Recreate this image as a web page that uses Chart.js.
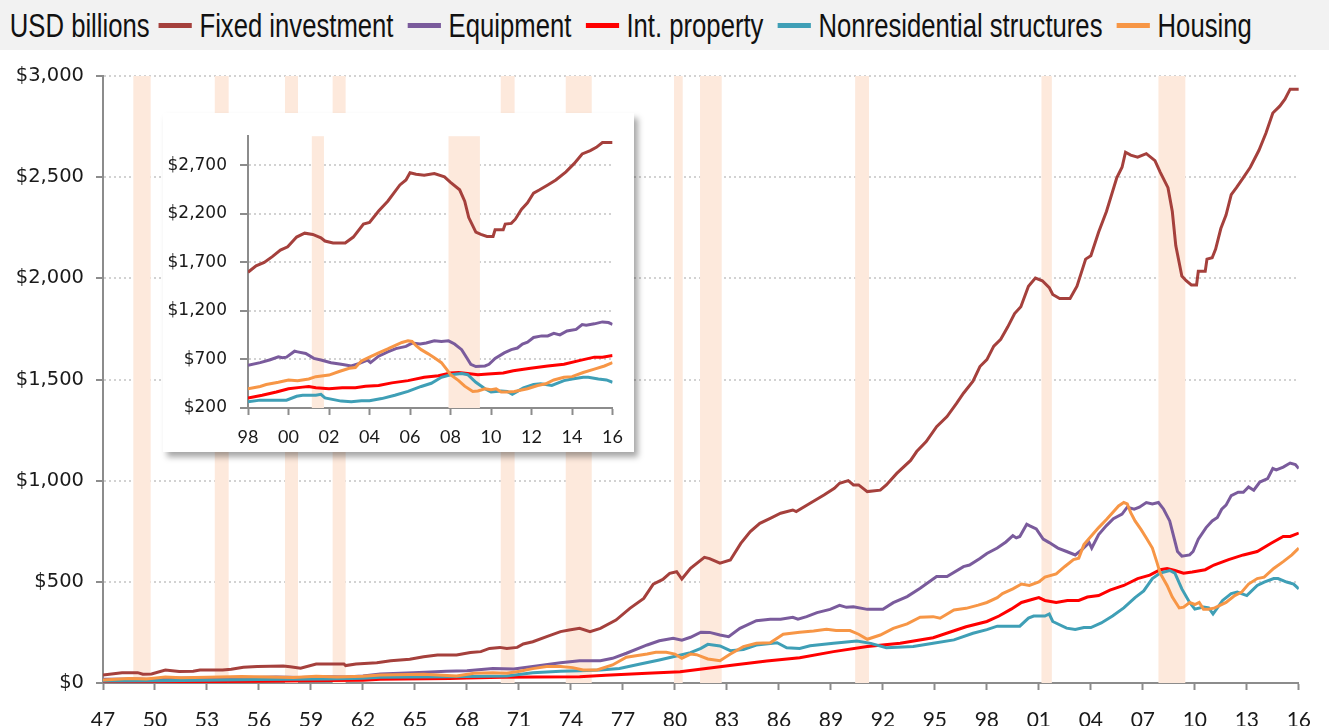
<!DOCTYPE html>
<html>
<head>
<meta charset="utf-8">
<title>Fixed investment by type</title>
<script src="https://cdn.jsdelivr.net/npm/chart.js@4.4.1/dist/chart.umd.min.js"></script>
<style>
    html, body { margin: 0; padding: 0; background: #fff; }
    #wrap { position: relative; width: 1329px; height: 726px; overflow: hidden; }
    #mainChart { position: absolute; left: 0; top: 0; }
    #legend {
        position: absolute; left: 0; top: 0; width: 1329px; height: 50px;
        background: #f2f2f2; overflow: hidden;
    }
    /* the original uses a tall condensed face: squeeze Liberation Sans to match */
    #legendRow {
        position: absolute; left: 0; top: 0; height: 50px;
        display: flex; align-items: center; white-space: nowrap;
        transform: scaleX(0.755); transform-origin: 0 0;
        font-family: 'Liberation Sans', Arial, sans-serif; font-size: 34px; color: #111;
    }
    #legendRow .unit { margin-left: 13px; margin-right: 12px; }
    #legendRow .item { display: flex; align-items: center; margin-right: 19px; }
    #legendRow .swatch { width: 44px; height: 5px; margin-right: 10px; }
    #inset {
        position: absolute; left: 163px; top: 113px; width: 471px; height: 339px;
        background: #fff; box-shadow: 4px 5px 6px rgba(0, 0, 0, 0.35);
    }
</style>
</head>
<body>
<div id="wrap">
    <canvas id="mainChart" width="1329" height="726"></canvas>
    <div id="legend"><div id="legendRow"><span class="unit">USD billions</span></div></div>
    <div id="inset"><canvas id="insetChart" width="471" height="339"></canvas></div>
</div>
<script>
// Values, [year, USD billions]
const fixedInvestment = [
    [1947.0, 40], [1948.1, 51], [1949.0, 51], [1949.3, 43], [1949.8, 45], [1950.6, 64], [1951.4, 57],
    [1952.2, 58], [1952.6, 64], [1953.9, 64], [1954.4, 68], [1955.1, 78], [1955.9, 81], [1957.4, 84],
    [1957.8, 80], [1958.4, 73], [1959.3, 94], [1960.9, 94], [1961.0, 86], [1961.6, 94], [1962.8, 100],
    [1963.6, 110], [1964.7, 117], [1965.5, 130], [1966.3, 138], [1967.4, 138], [1968.2, 151], [1968.8, 155],
    [1969.3, 171], [1969.9, 176], [1970.3, 171], [1970.9, 176], [1971.25, 193], [1971.8, 204], [1972.6, 229],
    [1973.4, 254], [1973.9, 262], [1974.5, 270], [1975.1, 254], [1975.7, 270], [1976.6, 311], [1977.4, 369],
    [1978.2, 418], [1978.75, 489], [1979.3, 512], [1979.7, 542], [1980.1, 550], [1980.4, 514], [1980.9, 567],
    [1981.7, 621], [1982.0, 615], [1982.6, 592], [1983.2, 608], [1983.8, 690], [1984.35, 748], [1984.9, 789],
    [1985.5, 814], [1986.1, 839], [1986.8, 855], [1987.0, 847], [1987.8, 888], [1988.6, 929], [1989.2, 962],
    [1989.5, 987], [1990.0, 1000], [1990.3, 979], [1990.6, 979], [1991.1, 946], [1991.85, 953], [1992.2, 979],
    [1992.8, 1036], [1993.6, 1100], [1993.95, 1144], [1994.5, 1193], [1995.1, 1267], [1995.7, 1317],
    [1996.25, 1382], [1996.65, 1432], [1997.2, 1492], [1997.6, 1564], [1998.0, 1598], [1998.4, 1665],
    [1998.8, 1699], [1999.2, 1759], [1999.6, 1826], [1999.96, 1860], [2000.4, 1961], [2000.8, 2001],
    [2001.2, 1988], [2001.6, 1954], [2001.8, 1920], [2002.2, 1900], [2002.8, 1900], [2003.2, 1961],
    [2003.7, 2095], [2004.0, 2112], [2004.45, 2229], [2004.9, 2330], [2005.5, 2498], [2005.8, 2549],
    [2006.0, 2623], [2006.3, 2609], [2006.7, 2599], [2007.2, 2616], [2007.7, 2582], [2008.0, 2525],
    [2008.45, 2448], [2008.7, 2330], [2008.9, 2162], [2009.25, 2011], [2009.5, 1988], [2009.8, 1967],
    [2010.1, 1967], [2010.2, 2035], [2010.6, 2035], [2010.7, 2095], [2011.0, 2102], [2011.2, 2145],
    [2011.5, 2246], [2011.8, 2313], [2012.1, 2414], [2012.4, 2448], [2012.8, 2498], [2013.2, 2549],
    [2013.7, 2633], [2014.1, 2717], [2014.5, 2817], [2014.9, 2851], [2015.2, 2885], [2015.5, 2935],
    [2016.0, 2935]
];

const equipment = [
    [1947.0, 18], [1949.0, 20], [1949.8, 17], [1951.0, 24], [1953.0, 25], [1955.0, 26], [1957.0, 30],
    [1958.4, 27], [1960.0, 31], [1961.0, 30], [1962.0, 35], [1963.0, 44], [1964.9, 51], [1965.9, 54],
    [1966.8, 58], [1968.0, 61], [1969.5, 72], [1970.7, 69], [1971.8, 81], [1973.4, 100], [1974.5, 110],
    [1975.7, 110], [1976.4, 122], [1977.2, 147], [1978.4, 188], [1979.1, 209], [1979.9, 221], [1980.4, 212],
    [1980.9, 226], [1981.5, 251], [1982.0, 250], [1982.6, 237], [1983.1, 229], [1983.75, 270], [1984.7, 308],
    [1985.5, 315], [1986.1, 315], [1986.8, 325], [1987.1, 315], [1987.6, 328], [1988.2, 348], [1988.95, 364],
    [1989.5, 384], [1989.9, 374], [1990.3, 377], [1991.1, 364], [1992.0, 364], [1992.6, 397], [1993.4, 427],
    [1994.15, 468], [1995.1, 526], [1995.7, 526], [1996.65, 575], [1997.0, 583], [1997.6, 615],
    [1998.0, 640], [1998.6, 667], [1999.1, 697], [1999.5, 728], [1999.7, 717], [1999.9, 724], [2000.3, 785],
    [2000.45, 778], [2000.85, 761], [2001.25, 711], [2001.6, 694], [2002.1, 667], [2002.6, 650],
    [2003.1, 633], [2003.5, 660], [2003.9, 694], [2004.05, 667], [2004.45, 734], [2004.9, 778],
    [2005.3, 812], [2005.8, 835], [2006.1, 869], [2006.5, 859], [2006.8, 869], [2007.2, 892],
    [2007.55, 885], [2007.9, 892], [2008.2, 859], [2008.55, 801], [2008.8, 717], [2009.0, 650],
    [2009.25, 627], [2009.7, 633], [2009.9, 650], [2010.2, 711], [2010.65, 768], [2011.0, 801],
    [2011.3, 818], [2011.55, 859], [2011.8, 879], [2012.1, 926], [2012.5, 943], [2012.8, 943],
    [2013.1, 969], [2013.4, 953], [2013.75, 993], [2014.2, 1010], [2014.5, 1060], [2014.7, 1053],
    [2015.1, 1067], [2015.5, 1087], [2015.8, 1080], [2016.0, 1060]
];

const intProperty = [
    [1947.0, 4], [1952.0, 6], [1956.0, 9], [1960.0, 12], [1962.0, 14], [1963.0, 18], [1967.0, 22],
    [1968.0, 25], [1970.0, 28], [1972.0, 30], [1974.5, 31], [1976.0, 38], [1978.4, 48], [1980.3, 56],
    [1981.45, 68], [1983.4, 89], [1985.3, 109], [1987.2, 125], [1989.15, 155], [1991.1, 180], [1993.0, 196],
    [1994.9, 224], [1996.8, 278], [1998.0, 304], [1998.7, 331], [1999.4, 365], [2000.0, 398], [2000.7, 415],
    [2001.0, 422], [2001.35, 408], [2002.0, 398], [2002.65, 408], [2003.3, 408], [2003.8, 425],
    [2004.45, 432], [2005.1, 459], [2005.9, 482], [2006.7, 516], [2007.4, 533], [2008.0, 560],
    [2008.4, 566], [2008.85, 556], [2009.35, 543], [2009.85, 549], [2010.6, 560], [2011.1, 583],
    [2011.95, 610], [2012.8, 633], [2013.6, 650], [2014.4, 691], [2015.1, 724], [2015.5, 724], [2016.0, 741]
];

const nonresStructures = [
    [1947.0, 10], [1950.0, 11], [1953.0, 14], [1956.0, 17], [1958.0, 18], [1960.0, 20], [1962.0, 24],
    [1963.0, 28], [1966.8, 31], [1970.3, 35], [1971.8, 51], [1973.4, 58], [1974.5, 61], [1975.7, 64],
    [1976.8, 72], [1978.0, 94], [1979.1, 114], [1979.9, 130], [1980.9, 150], [1981.5, 171], [1981.9, 191],
    [1982.6, 183], [1983.2, 160], [1983.95, 166], [1984.7, 188], [1985.9, 199], [1986.45, 174], [1987.2, 171],
    [1987.8, 184], [1989.15, 196], [1990.5, 207], [1991.3, 196], [1992.2, 174], [1993.75, 180], [1994.9, 196],
    [1996.1, 213], [1997.2, 246], [1998.0, 264], [1998.6, 281], [1999.9, 281], [2000.4, 321], [2000.7, 331],
    [2001.35, 331], [2001.6, 341], [2001.8, 304], [2002.6, 271], [2003.1, 264], [2003.6, 274], [2004.0, 274],
    [2004.6, 297], [2005.25, 331], [2005.9, 371], [2006.55, 422], [2007.05, 455], [2007.55, 516],
    [2008.0, 543], [2008.55, 556], [2008.85, 543], [2009.25, 465], [2009.7, 398], [2010.0, 365],
    [2010.5, 375], [2010.8, 371], [2011.05, 341], [2011.3, 371], [2011.6, 408], [2012.1, 442],
    [2012.45, 449], [2013.0, 432], [2013.6, 482], [2014.0, 499], [2014.55, 516], [2014.8, 516],
    [2015.3, 499], [2015.7, 489], [2016.0, 465]
];

const housing = [
    [1947.0, 15], [1948.5, 22], [1949.5, 20], [1950.6, 30], [1951.5, 26], [1953.0, 28], [1955.0, 32],
    [1956.5, 30], [1958.0, 27], [1959.3, 33], [1960.5, 30], [1962.0, 33], [1963.0, 40], [1965.5, 43],
    [1967.4, 35], [1968.4, 48], [1969.5, 51], [1970.3, 48], [1971.05, 58], [1971.8, 71], [1972.6, 81],
    [1973.4, 81], [1974.1, 76], [1974.7, 64], [1975.5, 64], [1976.4, 89], [1977.2, 127], [1978.4, 143],
    [1978.9, 152], [1979.5, 152], [1980.0, 143], [1980.4, 122], [1980.9, 143], [1981.25, 140], [1981.9, 119],
    [1982.6, 110], [1983.2, 143], [1983.95, 180], [1984.7, 196], [1985.5, 199], [1986.25, 241], [1987.2, 251],
    [1988.0, 257], [1988.75, 265], [1989.3, 259], [1990.1, 259], [1990.6, 241], [1991.1, 216], [1991.85, 237],
    [1992.6, 270], [1993.4, 292], [1994.15, 325], [1994.9, 328], [1995.3, 320], [1996.1, 361], [1996.8, 369],
    [1997.5, 385], [1998.0, 398], [1998.6, 422], [1998.9, 442], [1999.5, 465], [2000.0, 489], [2000.45, 482],
    [2001.0, 499], [2001.35, 523], [2002.0, 539], [2002.5, 576], [2003.0, 610], [2003.3, 617], [2003.6, 684],
    [2004.0, 724], [2004.45, 768], [2004.9, 808], [2005.25, 842], [2005.6, 875], [2005.9, 892], [2006.1, 885],
    [2006.3, 842], [2006.55, 801], [2006.9, 758], [2007.2, 717], [2007.55, 667], [2007.8, 600], [2008.0, 543],
    [2008.4, 482], [2008.7, 425], [2009.1, 371], [2009.35, 375], [2009.7, 398], [2010.0, 388], [2010.25, 398],
    [2010.5, 365], [2010.8, 365], [2011.15, 371], [2011.8, 398], [2012.3, 432], [2012.7, 449], [2013.1, 489],
    [2013.6, 516], [2014.0, 523], [2014.55, 566], [2015.1, 600], [2015.6, 633], [2016.0, 667]
];

// Recession periods (shaded)
const recessionStarts = [1948.75, 1953.45, 1957.5, 1960.25, 1969.95, 1973.7, 1979.95, 1981.45, 1990.4, 2001.15, 2007.9];
const recessionEnds = [1949.75, 1954.25, 1958.25, 1961.0, 1970.75, 1975.2, 1980.45, 1982.7, 1991.2, 2001.75, 2009.45];

const insetYTicks = [200, 700, 1200, 1700, 2200, 2700];

const seriesNames = ['Fixed investment', 'Equipment', 'Int. property', 'Nonresidential structures', 'Housing'];
const seriesData = [fixedInvestment, equipment, intProperty, nonresStructures, housing];
const seriesColors = ['#a5403c', '#7a5b9c', '#ff0000', '#3f9fb6', '#f79646'];

const axisGray = '#8c8c8c';
const gridGray = '#d2d2d2';
const bandColor = '#fde9dc';

// Shade recessions between the grid and the lines
const recessionPlugin = {
    id: 'recessionBands',
    beforeDatasetsDraw(chart) {
        const { ctx, chartArea, scales: { x } } = chart;
        ctx.save();
        ctx.fillStyle = bandColor;
        recessionStarts.forEach((start, i) => {
            const lo = Math.max(start, x.min);
            const hi = Math.min(recessionEnds[i], x.max);
            if (hi <= lo) return;
            const x1 = x.getPixelForValue(lo);
            const x2 = x.getPixelForValue(hi);
            ctx.fillRect(x1, chartArea.top, x2 - x1, chartArea.bottom - chartArea.top);
        });
        ctx.restore();
    }
};

function makeDatasets(minYear) {
    return seriesData.map((series, i) => ({
        label: seriesNames[i],
        data: series.filter(p => p[0] >= minYear),
        borderColor: seriesColors[i],
        backgroundColor: seriesColors[i],
        borderWidth: 3,
        pointRadius: 0,
        tension: 0,
        fill: false,
        order: seriesNames.length - i
    }));
}

function twoDigitYear(v) {
    return String(Math.round(v) % 100).padStart(2, '0');
}

function dollars(v) {
    return '$' + Number(v).toLocaleString('en-US');
}

// Legend strip
const legendRow = document.getElementById('legendRow');
seriesNames.forEach((name, i) => {
    const item = document.createElement('span');
    item.className = 'item';
    const sw = document.createElement('span');
    sw.className = 'swatch';
    sw.style.background = seriesColors[i];
    const txt = document.createElement('span');
    txt.textContent = name;
    item.appendChild(sw);
    item.appendChild(txt);
    legendRow.appendChild(item);
});

// Main chart, 1947-2016
new Chart(document.getElementById('mainChart'), {
    type: 'line',
    data: { datasets: makeDatasets(1947) },
    options: {
        responsive: false,
        animation: false,
        devicePixelRatio: 1,
        layout: { padding: { top: 76, right: 30, left: 0, bottom: 0 } },
        plugins: { legend: { display: false }, tooltip: { enabled: false } },
        scales: {
            x: {
                type: 'linear',
                min: 1947,
                max: 2016,
                afterFit: s => { s.height = 43; },
                ticks: {
                    stepSize: 3,
                    autoSkip: false,
                    maxRotation: 0,
                    padding: 18,
                    color: '#1a1a1a',
                    font: { family: 'Lato, sans-serif', size: 21 },
                    callback: twoDigitYear
                },
                grid: { drawOnChartArea: false, tickLength: 7, tickColor: axisGray, tickWidth: 2 },
                border: { color: axisGray, width: 2 }
            },
            y: {
                min: 0,
                max: 3000,
                afterFit: s => { s.width = 103; },
                ticks: {
                    stepSize: 500,
                    padding: 12,
                    color: '#1a1a1a',
                    font: { family: '"DejaVu Sans", sans-serif', size: 19.5 },
                    callback: dollars
                },
                grid: {
                    color: c => (c.tick && c.tick.value === 0) ? 'rgba(0,0,0,0)' : gridGray,
                    lineWidth: 2,
                    tickLength: 7,
                    tickColor: axisGray,
                    tickWidth: 2
                },
                border: { color: axisGray, width: 2, dash: [2, 3] }
            }
        }
    },
    plugins: [recessionPlugin]
});

// Inset, 1998-2016
new Chart(document.getElementById('insetChart'), {
    type: 'line',
    data: { datasets: makeDatasets(1998) },
    options: {
        responsive: false,
        animation: false,
        devicePixelRatio: 1,
        layout: { padding: { top: 18, right: 18, left: 0, bottom: 0 } },
        plugins: { legend: { display: false }, tooltip: { enabled: false } },
        scales: {
            x: {
                type: 'linear',
                min: 1998,
                max: 2016,
                afterFit: s => { s.height = 44; },
                ticks: {
                    stepSize: 2,
                    autoSkip: false,
                    maxRotation: 0,
                    padding: 11,
                    color: '#1a1a1a',
                    font: { family: 'Lato, sans-serif', size: 18 },
                    callback: twoDigitYear
                },
                grid: { drawOnChartArea: false, tickLength: 7, tickColor: axisGray, tickWidth: 2 },
                border: { color: axisGray, width: 2 }
            },
            y: {
                min: 200,
                max: 3000,
                afterFit: s => { s.width = 85; },
                afterBuildTicks: s => { s.ticks = insetYTicks.map(v => ({ value: v })); },
                ticks: {
                    padding: 13,
                    color: '#1a1a1a',
                    font: { family: '"DejaVu Sans", sans-serif', size: 17 },
                    callback: dollars
                },
                grid: {
                    color: c => (c.tick && c.tick.value === 200) ? 'rgba(0,0,0,0)' : gridGray,
                    lineWidth: 2,
                    tickLength: 8,
                    tickColor: axisGray,
                    tickWidth: 2
                },
                border: { color: axisGray, width: 2, dash: [2, 3] }
            }
        }
    },
    plugins: [recessionPlugin]
});
</script>
</body>
</html>
